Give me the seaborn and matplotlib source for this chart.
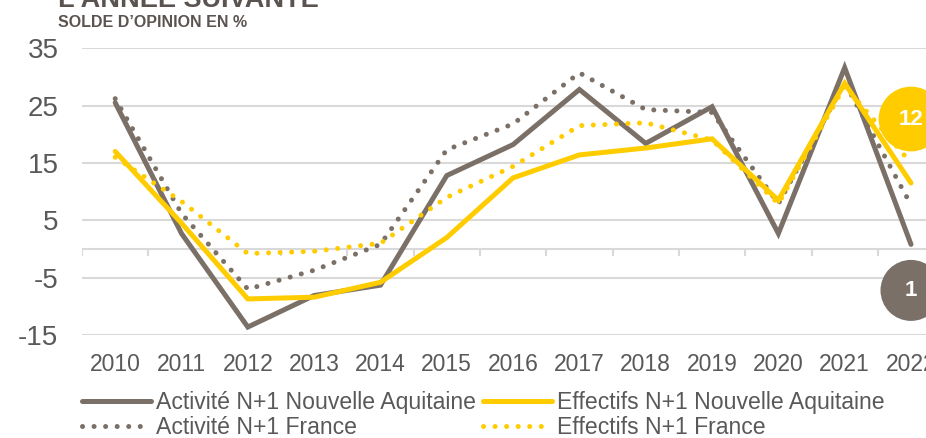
import numpy as np
import pandas as pd
import matplotlib
matplotlib.use('Agg')
import matplotlib.pyplot as plt
import seaborn as sns

# valeurs
annees = list(range(2010, 2023))
activite_na = [25.5, 2.7, -13.6, -8.1, -6.3, 12.8, 18.2, 27.8, 18.4, 24.8, 2.7, 31.6, 0.8]
effectifs_na = [17.0, 4.5, -8.7, -8.4, -5.8, 2.0, 12.4, 16.4, 17.6, 19.2, 8.5, 28.9, 11.5]
activite_fr = [26.2, 6.2, -7.0, -3.7, 0.8, 17.3, 21.8, 30.7, 24.3, 23.8, 7.9, 29.0, 7.7]
effectifs_fr = [16.0, 8.3, -0.8, -0.4, 1.0, 9.0, 14.4, 21.5, 22.0, 19.0, 7.9, 28.4, 15.0]

gris = '#7b7067'
jaune = '#ffcc00'
txt = '#595959'
grille = '#d9d9d9'

sns.set_style('white')
plt.rcParams['font.family'] = ['Liberation Sans', 'DejaVu Sans']
plt.rcParams['axes.unicode_minus'] = False

fig = plt.figure(figsize=(9.26, 4.38), dpi=100)
ax = fig.add_axes([0.0886, 0.235, 0.931, 0.655])

points = (0, (0.01, 2.3))
sns.lineplot(x=annees, y=activite_na, ax=ax, color=gris, lw=3.6, label='Activité N+1 Nouvelle Aquitaine',
             solid_joinstyle='miter', zorder=3)
sns.lineplot(x=annees, y=activite_fr, ax=ax, color=gris, lw=3.6, linestyle=points, dash_capstyle='round',
             label='Activité N+1 France', zorder=3)
sns.lineplot(x=annees, y=effectifs_na, ax=ax, color=jaune, lw=3.6, label='Effectifs N+1 Nouvelle Aquitaine',
             solid_joinstyle='miter', zorder=3)
sns.lineplot(x=annees, y=effectifs_fr, ax=ax, color=jaune, lw=3.6, linestyle=points, dash_capstyle='round',
             label='Effectifs N+1 France', zorder=3)

ax.set_xlim(2009.5, 2022.5)
ax.set_ylim(-15, 35)
ax.set_yticks(np.arange(-15, 36, 10))
ax.set_xticks(annees)
ax.set_xticklabels([str(a) for a in annees])
ax.grid(axis='y', color=grille, lw=1.5)
ax.grid(axis='x', visible=False)
for s in ax.spines.values():
    s.set_visible(False)
ax.tick_params(axis='y', length=0, labelsize=20, labelcolor=txt, pad=17)
ax.tick_params(axis='x', length=0, labelsize=16.5, labelcolor=txt, pad=13)

# axe horizontal a zero avec graduations entre les categories
ax.axhline(0, color=grille, lw=1.5, zorder=1)
ax.vlines(np.arange(2009.5, 2023, 1), -1.2, 0, color=grille, lw=1.5, zorder=1)

# etiquettes des dernieres valeurs
ax.annotate(f'{effectifs_na[-1]:.0f}', xy=(annees[-1], effectifs_na[-1]), xytext=(0, 64),
            textcoords='offset pixels', ha='center', va='center', fontsize=16, fontweight='bold', color='white',
            bbox=dict(boxstyle='circle,pad=0.9', fc=jaune, ec='none'), annotation_clip=False, zorder=5)
ax.annotate(f'{activite_na[-1]:.0f}', xy=(annees[-1], activite_na[-1]), xytext=(0, -46),
            textcoords='offset pixels', ha='center', va='center', fontsize=16, fontweight='bold', color='white',
            bbox=dict(boxstyle='circle,pad=0.9', fc=gris, ec='none'), annotation_clip=False, zorder=5)

ax.get_legend().remove()
h, l = ax.get_legend_handles_labels()
for hh in h:
    if hh.get_linestyle() != '-':
        hh.set_linestyle(points)
        hh.set_dash_capstyle('round')
fig.legend(h, l, loc='upper left', bbox_to_anchor=(0.0886, 1 - 391 / 438), ncol=2, frameon=False,
           fontsize=16.6, labelcolor=txt, handlelength=3.0, handletextpad=0.22, columnspacing=0.3,
           labelspacing=0.08, borderaxespad=0, borderpad=0)

fig.text(0.0626, 1 - 7 / 438, 'L’ANNÉE SUIVANTE', fontsize=19.5, fontweight='bold', color='#5b5350',
         va='baseline')
fig.text(0.0626, 1 - 27 / 438, 'SOLDE D’OPINION EN %', fontsize=11.5, fontweight='bold', color='#5b5350',
         va='baseline')

fig.savefig('out.png', dpi=100)
